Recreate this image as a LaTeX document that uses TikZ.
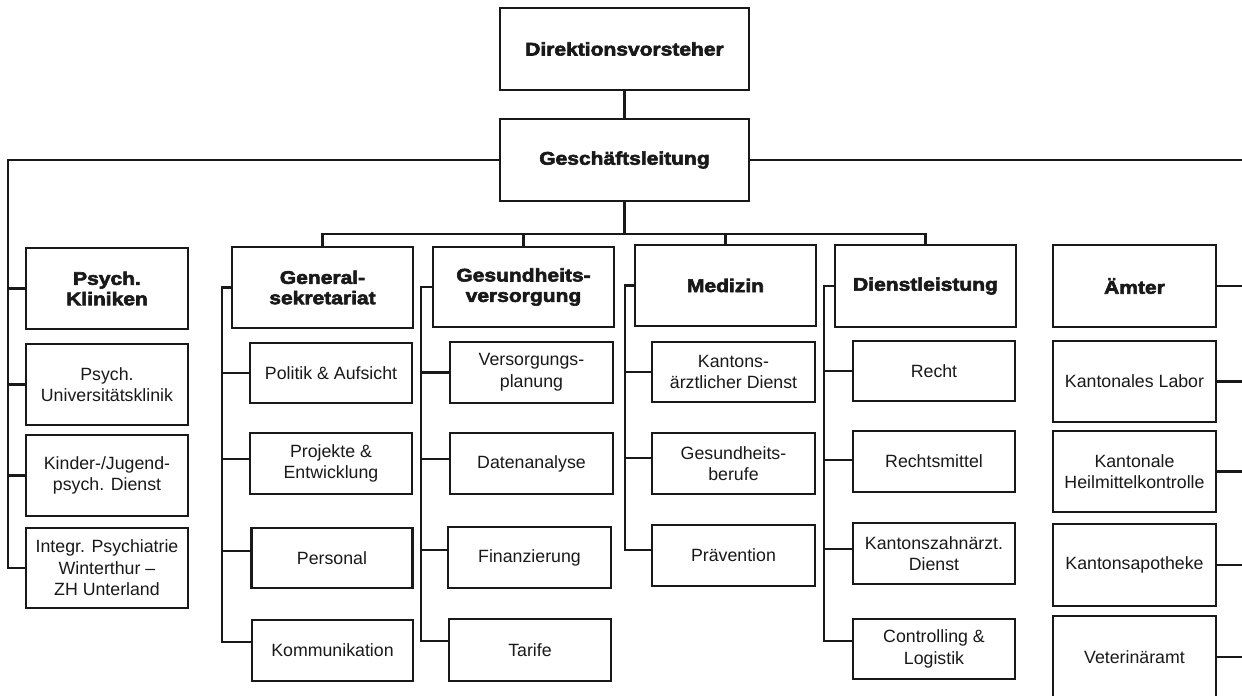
\documentclass[tikz,border=0pt]{standalone}
\usepackage{fontspec}
\setmainfont{Liberation Sans}
% wide, heavy face for the unit headings
\newfontfamily\heavyfont{Liberation Sans}[UprightFont=* Bold, FakeStretch=1.15, FakeBold=3.2]
\usetikzlibrary{calc}
\definecolor{ink}{gray}{0.1}

\tikzset{
  line/.style={draw=ink, line width=1.35pt},
  box/.style={draw=ink, line width=1.35pt, fill=white, inner sep=1pt, align=center,
              text=ink, font=\fontsize{10.1}{12.3}\selectfont},
  head/.style={box, font=\heavyfont\fontsize{10.4}{11.6}\selectfont},
  sz/.style 2 args={minimum width=#1*0.02cm, minimum height=#2*0.02cm},
  lift/.style={yshift=#1*0.02cm},
}

\begin{document}
\begin{tikzpicture}[x=0.02cm, y=-0.02cm]
\useasboundingbox (0,0) rectangle (1242,696);
\clip (0,0) rectangle (1242,696);

% top management
\node[head, sz={249}{82}] (dir) at (624.5,49)  {Direktionsvorsteher};
\node[head, sz={249}{82}] (gl)  at (624.5,160) {Geschäftsleitung};
\draw[line] (dir) -- (gl);

% psychiatric clinics
\node[head, sz={162}{81}] (pk)  at (107,288.5) {Psych.\\Kliniken};
\node[box,  sz={162}{81}] (pk1) at (107,384.5) {Psych.\\Universitätsklinik};
\node[box,  sz={162}{81}] (pk2) at (107,475.5) {Kinder-/Jugend-\\psych. Dienst};
\node[box,  sz={162}{80}] (pk3) at (107,568)   {Integr. Psychiatrie\\Winterthur –\\ZH Unterland};

% general secretariat
\node[head, sz={181}{81}] (gs)  at (322.5,287.5) {General-\\sekretariat};
\node[box,  sz={162}{60}] (gs1) at (331,373)     {Politik \& Aufsicht};
\node[box,  sz={162}{61}] (gs2) at (331,463.5)   {Projekte \&\\Entwicklung};
\node[box,  sz={161}{60}] (gs3) at (332,558)     {Personal};
\node[box,  sz={161}{61}] (gs4) at (332.5,650.5) {Kommunikation};

% health care
\node[head, sz={181}{80}] (gv)  at (523.5,287)   {Gesundheits-\\versorgung};
\node[box,  sz={163}{61}] (gv1) at (531.5,372.5) {Versorgungs-\\planung};
\node[box,  sz={163}{61}] (gv2) at (531.5,463.5) {Datenanalyse};
\node[box,  sz={163}{61}] (gv3) at (529.5,557.5) {Finanzierung};
\node[box,  sz={162}{62}] (gv4) at (530,650)     {Tarife};

% medicine
\node[head, sz={181}{81}] (med)  at (725.5,285.5) {Medizin};
\node[box,  sz={163}{60}] (med1) at (733.5,372)   {Kantons-\\ärztlicher Dienst};
\node[box,  sz={163}{61}] (med2) at (733.5,463.5) {Gesundheits-\\berufe};
\node[box,  sz={163}{61}] (med3) at (733.5,555.5) {Prävention};

% services
\node[head, sz={181}{82}] (dl)  at (925.5,286)   {Dienstleistung};
\node[box,  sz={162}{60}] (dl1) at (934,371)     {Recht};
\node[box,  sz={162}{61}] (dl2) at (934,461.5)   {Rechtsmittel};
\node[box,  sz={162}{61}] (dl3) at (934,553.5)   {Kantonszahnärzt.\\Dienst};
\node[box,  sz={162}{60}] (dl4) at (934,649)     {Controlling \&\\Logistik};

% offices
\node[head, sz={163}{82}] (am)  at (1134.5,286)   {Ämter};
\node[box,  sz={163}{81}] (am1) at (1134.5,381.5) {Kantonales Labor};
\node[box,  sz={163}{81}] (am2) at (1134.5,471.5) {Kantonale\\Heilmittelkontrolle};
\node[box,  sz={163}{82}] (am3) at (1134.5,565)   {Kantonsapotheke};
\node[box,  sz={163}{82}] (am4) at (1134.5,657)   {Veterinäramt};

% left branch: psychiatric clinics
\draw[line] (gl.west) -| ($(pk.west)+(-17,0)$) coordinate (lt) |- (pk3.west);
\draw[line] (lt) -- (pk.west);
\draw[line] (lt) |- (pk1.west);
\draw[line] (lt) |- (pk2.west);

% right branch: offices run on beyond the edge
\coordinate (redge) at (1262,160);
\draw[line] (gl.east) -- (gl.east -| redge);
\foreach \n in {am,am1,am2,am3,am4}
  \draw[line] (\n.east) -- ++(40,0);

% bus to the four staff units
\draw[line] (gl.south) -- ++(0,32) coordinate (bus);
\foreach \n in {gs,gv,med,dl}
  \draw[line] (\n.north) |- (bus);

% general secretariat subtree
\draw[line] (gs.west) -- ++(-9,0) coordinate (gsT) |- ([lift=8.5]gs4.west);
\draw[line] (gsT) |- (gs1.west);
\draw[line] (gsT) |- ([lift=4.5]gs2.west);
\draw[line] (gsT) |- ([lift=7]gs3.west);

% health care subtree
\draw[line] (gv.west) -- ++(-11,0) coordinate (gvT) |- ([lift=9]gv4.west);
\draw[line] (gvT) |- (gv1.west);
\draw[line] (gvT) |- ([lift=4.5]gv2.west);
\draw[line] (gvT) |- ([lift=7.5]gv3.west);

% medicine subtree
\draw[line] (med.west) -- ++(-9,0) coordinate (medT) |- ([lift=5.5]med3.west);
\draw[line] (medT) |- (med1.west);
\draw[line] (medT) |- ([lift=5.5]med2.west);

% services subtree
\draw[line] (dl.west) -- ++(-10,0) coordinate (dlT) |- ([lift=8]dl4.west);
\draw[line] (dlT) |- (dl1.west);
\draw[line] (dlT) |- ([lift=1.5]dl2.west);
\draw[line] (dlT) |- ([lift=4.5]dl3.west);
\end{tikzpicture}
\end{document}
